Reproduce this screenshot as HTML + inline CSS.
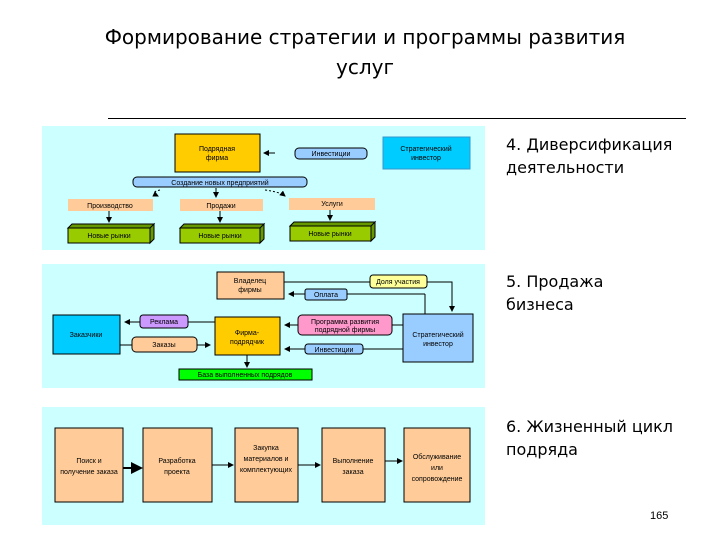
<!DOCTYPE html>
<html><head><meta charset="utf-8"><style>
body{margin:0;width:720px;height:540px;background:#fff;overflow:hidden;font-family:"Liberation Sans","DejaVu Sans",sans-serif}
.t{position:absolute;color:#000}
</style></head><body>
<div class="t" style="left:0;width:730px;top:22px;text-align:center;font-size:20px;line-height:30px;font-family:'DejaVu Sans',sans-serif">Формирование стратегии и программы развития<br>услуг</div>
<div style="position:absolute;left:108px;top:118px;width:578px;height:1px;background:#000"></div>
<div class="t" style="left:506px;top:133px;font-size:16px;line-height:23px;font-family:'DejaVu Sans',sans-serif">4. Диверсификация<br>деятельности</div>
<div class="t" style="left:506px;top:270px;font-size:16px;line-height:23px;font-family:'DejaVu Sans',sans-serif">5. Продажа<br>бизнеса</div>
<div class="t" style="left:506px;top:415px;font-size:16px;line-height:23px;font-family:'DejaVu Sans',sans-serif">6. Жизненный цикл<br>подряда</div>
<div class="t" style="left:650px;top:510px;font-size:11px">165</div>
<svg width="720" height="540" style="position:absolute;left:0;top:0" font-family="Liberation Sans, sans-serif" font-size="7" text-anchor="middle">
<defs><marker id="a" markerWidth="6" markerHeight="6" refX="5" refY="3" orient="auto"><path d="M0,0L6,3L0,6z" fill="#000"/></marker></defs>
<rect x="42" y="126" width="443" height="124" fill="#ccffff"/>
<rect x="42" y="264" width="443" height="124" fill="#ccffff"/>
<rect x="42" y="407" width="443" height="118" fill="#ccffff"/>
<g stroke="#000" stroke-width="1">
<!-- panel1 -->
<rect x="175" y="134" width="85" height="38" fill="#ffcc00"/>
<rect x="295" y="148" width="72" height="11" rx="4" fill="#99ccff"/>
<rect x="383" y="137" width="87" height="32" fill="#00ccff" stroke="#3399cc"/>
<rect x="133" y="177" width="174" height="10" rx="4" fill="#99ccff"/>
<rect x="68" y="199" width="85" height="12" fill="#ffcc99" stroke="none"/>
<rect x="180" y="199" width="83" height="12" fill="#ffcc99" stroke="none"/>
<rect x="289" y="198" width="86" height="12" fill="#ffcc99" stroke="none"/>
<path d="M68,228h82l4,-4h-82z M150,228v15l4,-4v-15z" fill="#669900"/>
<rect x="68" y="228" width="82" height="15" fill="#99cc00"/>
<path d="M180,228h80l4,-4h-80z M260,228v15l4,-4v-15z" fill="#669900"/>
<rect x="180" y="228" width="80" height="15" fill="#99cc00"/>
<path d="M290,226h81l4,-4h-81z M371,226v15l4,-4v-15z" fill="#669900"/>
<rect x="290" y="226" width="81" height="15" fill="#99cc00"/>
<line x1="275" y1="153" x2="264" y2="153" marker-end="url(#a)"/>
<path d="M160,190 Q150,192 158,196" fill="none" stroke-dasharray="2,2" marker-end="url(#a)"/>
<line x1="216" y1="188" x2="216" y2="197" marker-end="url(#a)"/>
<path d="M265,190 Q280,192 285,196" fill="none" stroke-dasharray="2,2" marker-end="url(#a)"/>
<line x1="109" y1="211" x2="109" y2="222" marker-end="url(#a)"/>
<line x1="220" y1="211" x2="220" y2="222" marker-end="url(#a)"/>
<line x1="330" y1="210" x2="330" y2="220" marker-end="url(#a)"/>
<!-- panel2 -->
<polyline points="284,282 370,282" fill="none"/>
<polyline points="427,282 452,282 452,311" fill="none" marker-end="url(#a)"/>
<polyline points="425,294 425,314" fill="none"/>
<line x1="425" y1="294" x2="289" y2="294" marker-end="url(#a)"/>
<line x1="215" y1="322" x2="125" y2="322" marker-end="url(#a)"/>
<line x1="120" y1="345" x2="210" y2="345" marker-end="url(#a)"/>
<line x1="403" y1="325" x2="285" y2="325" marker-end="url(#a)"/>
<line x1="403" y1="349" x2="285" y2="349" marker-end="url(#a)"/>
<line x1="247" y1="355" x2="247" y2="367" marker-end="url(#a)"/>
<rect x="217" y="272" width="67" height="27" fill="#ffcc99"/>
<rect x="370" y="275" width="57" height="13" rx="3" fill="#ffff99"/>
<rect x="305" y="289" width="42" height="11" rx="2" fill="#99ccff"/>
<rect x="53" y="315" width="67" height="39" fill="#00ccff"/>
<rect x="140" y="315" width="48" height="13" rx="3" fill="#cc99ff"/>
<rect x="132" y="337" width="65" height="15" rx="4" fill="#ffcc99"/>
<rect x="215" y="317" width="65" height="38" fill="#ffcc00"/>
<rect x="298" y="315" width="94" height="20" rx="4" fill="#ff99cc"/>
<rect x="305" y="344" width="58" height="10" rx="3" fill="#99ccff"/>
<rect x="403" y="314" width="70" height="48" fill="#99ccff"/>
<rect x="179" y="369" width="133" height="11" fill="#00ff00"/>
<!-- panel3 -->
<line x1="123" y1="468" x2="141" y2="468" stroke-width="2" marker-end="url(#a)"/>
<line x1="212" y1="465" x2="233" y2="465" marker-end="url(#a)"/>
<line x1="298" y1="465" x2="320" y2="465" marker-end="url(#a)"/>
<line x1="385" y1="461" x2="402" y2="461" marker-end="url(#a)"/>
<rect x="55" y="428" width="68" height="74" fill="#ffcc99"/>
<rect x="143" y="428" width="69" height="74" fill="#ffcc99"/>
<rect x="235" y="428" width="63" height="74" fill="#ffcc99"/>
<rect x="322" y="428" width="63" height="74" fill="#ffcc99"/>
<rect x="404" y="428" width="66" height="74" fill="#ffcc99"/>
</g>
<g fill="#000">
<text x="217" y="151">Подрядная</text><text x="217" y="160">фирма</text>
<text x="331" y="156">Инвестиции</text>
<text x="426" y="151">Стратегический</text><text x="426" y="160">инвестор</text>
<text x="220" y="185">Создание новых предприятий</text>
<text x="110" y="208">Производство</text>
<text x="221" y="208">Продажи</text>
<text x="332" y="206">Услуги</text>
<text x="109" y="238">Новые рынки</text>
<text x="220" y="238">Новые рынки</text>
<text x="330" y="236">Новые рынки</text>
<text x="250" y="283">Владелец</text><text x="250" y="292">фирмы</text>
<text x="398" y="284">Доля участия</text>
<text x="326" y="297">Оплата</text>
<text x="86" y="337">Заказчики</text>
<text x="164" y="324">Реклама</text>
<text x="164" y="347">Заказы</text>
<text x="247" y="335">Фирма-</text><text x="247" y="344">подрядчик</text>
<text x="345" y="324">Программа развития</text><text x="345" y="332">подрядной фирмы</text>
<text x="334" y="352">Инвестиции</text>
<text x="438" y="337">Стратегический</text><text x="438" y="346">инвестор</text>
<text x="245" y="377">База выполненных подрядов</text>
<text x="89" y="463">Поиск и</text><text x="89" y="474">получение заказа</text>
<text x="177" y="463">Разработка</text><text x="177" y="474">проекта</text>
<text x="266" y="450">Закупка</text><text x="266" y="461">материалов и</text><text x="266" y="472">комплектующих</text>
<text x="353" y="463">Выполнение</text><text x="353" y="474">заказа</text>
<text x="437" y="459">Обслуживание</text><text x="437" y="470">или</text><text x="437" y="481">сопровождение</text>
</g>
</svg>
</body></html>
